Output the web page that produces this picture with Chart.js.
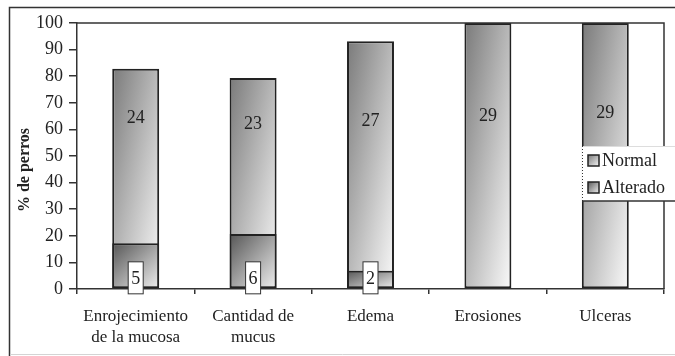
<!DOCTYPE html>
<html>
<head>
<meta charset="utf-8">
<script src="https://cdn.jsdelivr.net/npm/chart.js@4.4.1/dist/chart.umd.min.js"></script>
<style>
  html, body { margin: 0; padding: 0; background: #fff; }
  #wrap { width: 675px; height: 356px; }
</style>
</head>
<body>
<div id="wrap"><canvas id="chart" width="675" height="356"></canvas></div>
<script>
// ---- Data ----
const categories = [['Enrojecimiento', 'de la mucosa'], ['Cantidad de', 'mucus'], 'Edema', 'Erosiones', 'Ulceras'];
const normalPct = [82.8, 79.3, 93.1, 100, 100];
const alteradoPct = [17.2, 20.7, 6.9, 0, 0];
const normalCount = [24, 23, 27, 29, 29];
const alteradoCount = [5, 6, 2, 0, 0];
const normalLabelAt = [64, 62, 63, 65, 66]; // height (in %) of the count labels
const seriesNames = ['Normal', 'Alterado'];

const FONT = '"Liberation Serif", "Times New Roman", serif';
const INK = '#222';
const BAR_PCT = 0.4;

// Diagonal gradient stretched over the bar box (like the old Excel fill)
function boxGradient(c, x0, y0, w, h, from, to) {
  if (w <= 0 || h <= 0) return to;
  const t = 2 / (1 / (w * w) + 1 / (h * h));
  const g = c.createLinearGradient(x0, y0, x0 + t / w, y0 + t / h);
  g.addColorStop(0, from);
  g.addColorStop(1, to);
  return g;
}

function barFill(from, to) {
  return function(ctx) {
    const chart = ctx.chart;
    const xs = chart.scales.x, ys = chart.scales.y;
    if (!xs || !ys || !chart.chartArea || ctx.raw == null) return to;
    const w = xs.width / categories.length * BAR_PCT;
    const cx = xs.getPixelForValue(ctx.dataIndex);
    const yTop = ys.getPixelForValue(ctx.raw);
    const h = ys.getPixelForValue(0) - yTop;
    return boxGradient(chart.ctx, cx - w / 2, yTop, w, h, from, to);
  };
}

// ---- Extra drawing: frames, labels, legend, axis title ----
const decor = {
  id: 'decor',
  beforeDraw(chart) {
    const c = chart.ctx;
    c.save();
    c.fillStyle = '#fff';
    c.fillRect(0, 0, chart.width, chart.height);
    // outer frame
    c.strokeStyle = '#333';
    c.lineWidth = 1.5;
    c.beginPath();
    c.moveTo(9.5, 356);
    c.lineTo(9.5, 7.5);
    c.lineTo(675, 7.5);
    c.stroke();
    c.strokeStyle = '#d4d4d4';
    c.lineWidth = 1;
    c.beginPath();
    c.moveTo(10, 354.5);
    c.lineTo(675, 354.5);
    c.stroke();
    c.restore();
  },
  afterDraw(chart) {
    const c = chart.ctx;
    const a = chart.chartArea;
    const xs = chart.scales.x, ys = chart.scales.y;
    c.save();
    // plot area box (top and right)
    c.strokeStyle = '#333';
    c.lineWidth = 1.5;
    c.beginPath();
    c.moveTo(a.left, a.top);
    c.lineTo(a.right, a.top);
    c.lineTo(a.right, a.bottom);
    c.stroke();

    c.font = '18px ' + FONT;
    c.fillStyle = INK;
    c.textAlign = 'center';
    c.textBaseline = 'middle';
    // Normal counts inside the bars
    normalCount.forEach(function(n, i) {
      c.fillText(String(n), xs.getPixelForValue(i), ys.getPixelForValue(normalLabelAt[i]));
    });
    // Alterado counts in white boxes
    alteradoCount.forEach(function(n, i) {
      if (!n) return;
      const cx = xs.getPixelForValue(i);
      const cy = ys.getPixelForValue(4.2);
      c.fillStyle = '#fff';
      c.fillRect(cx - 7.5, cy - 16, 15, 32);
      c.strokeStyle = '#333';
      c.lineWidth = 1;
      c.strokeRect(cx - 7.5, cy - 16, 15, 32);
      c.fillStyle = INK;
      c.fillText(String(n), cx, cy + 1);
    });

    // legend
    const lx = 582, ly = 146, lw = 93, lh = 55;
    c.fillStyle = '#fff';
    c.fillRect(lx, ly, lw, lh);
    c.strokeStyle = '#ddd';
    c.lineWidth = 1;
    c.beginPath();
    c.moveTo(lx, ly + 0.5);
    c.lineTo(lx + lw, ly + 0.5);
    c.stroke();
    c.strokeStyle = '#333';
    c.setLineDash([1, 2]);
    c.beginPath();
    c.moveTo(lx + 0.5, ly);
    c.lineTo(lx + 0.5, ly + lh);
    c.stroke();
    c.setLineDash([]);
    c.lineWidth = 1.5;
    c.beginPath();
    c.moveTo(lx, ly + lh);
    c.lineTo(lx + lw, ly + lh);
    c.stroke();
    const swatches = [['#7a7a7a', '#f4f4f4'], ['#5a5a5a', '#eeeeee']];
    seriesNames.forEach(function(name, i) {
      const sy = 155 + i * 27;
      c.fillStyle = boxGradient(c, 588, sy, 11, 11, swatches[i][0], swatches[i][1]);
      c.fillRect(588, sy, 11, 11);
      c.strokeStyle = '#222';
      c.lineWidth = 1.5;
      c.strokeRect(588, sy, 11, 11);
      c.fillStyle = INK;
      c.textAlign = 'left';
      c.fillText(name, 602, sy + 6);
    });

    // y axis title
    c.translate(25, 170);
    c.rotate(-Math.PI / 2);
    c.font = 'bold 16px ' + FONT;
    c.textAlign = 'center';
    c.fillText('% de perros', 0, 0);
    c.restore();
  }
};

const chart = new Chart(document.getElementById('chart'), {
  type: 'bar',
  data: {
    labels: categories,
    datasets: [{
      label: seriesNames[0],
      data: normalPct,
      order: 1,
      backgroundColor: barFill('#7a7a7a', '#fafafa'),
      borderColor: '#222',
      borderWidth: ctx => (ctx.raw ? 2 : 0),
      borderSkipped: false
    }, {
      label: seriesNames[1],
      data: alteradoPct,
      order: 0,
      backgroundColor: barFill('#555555', '#f0f0f0'),
      borderColor: '#222',
      borderWidth: ctx => (ctx.raw ? 2 : 0),
      borderSkipped: false
    }]
  },
  options: {
    responsive: false,
    animation: false,
    events: [],
    layout: { padding: { top: 23, right: 11, left: 0, bottom: 0 } },
    categoryPercentage: 1,
    barPercentage: BAR_PCT,
    plugins: { legend: { display: false }, tooltip: { enabled: false } },
    scales: {
      x: {
        stacked: true,
        afterFit: s => { s.height = 67; },
        grid: { display: true, drawOnChartArea: false, offset: true, tickLength: 5, color: '#333', lineWidth: 1.5 },
        border: { display: true, color: '#333', width: 1.5 },
        ticks: { color: INK, padding: 13, font: { family: FONT, size: 17, lineHeight: 1.18 }, maxRotation: 0, autoSkip: false }
      },
      y: {
        stacked: false,
        min: 0,
        max: 100,
        afterFit: s => { s.width = 77; },
        grid: { display: true, drawOnChartArea: false, tickLength: 8, color: '#333', lineWidth: 1.5 },
        border: { display: true, color: '#333', width: 1.5 },
        ticks: { stepSize: 10, color: INK, padding: 6, font: { family: FONT, size: 18 } }
      }
    }
  },
  plugins: [decor]
});
</script>
</body>
</html>
